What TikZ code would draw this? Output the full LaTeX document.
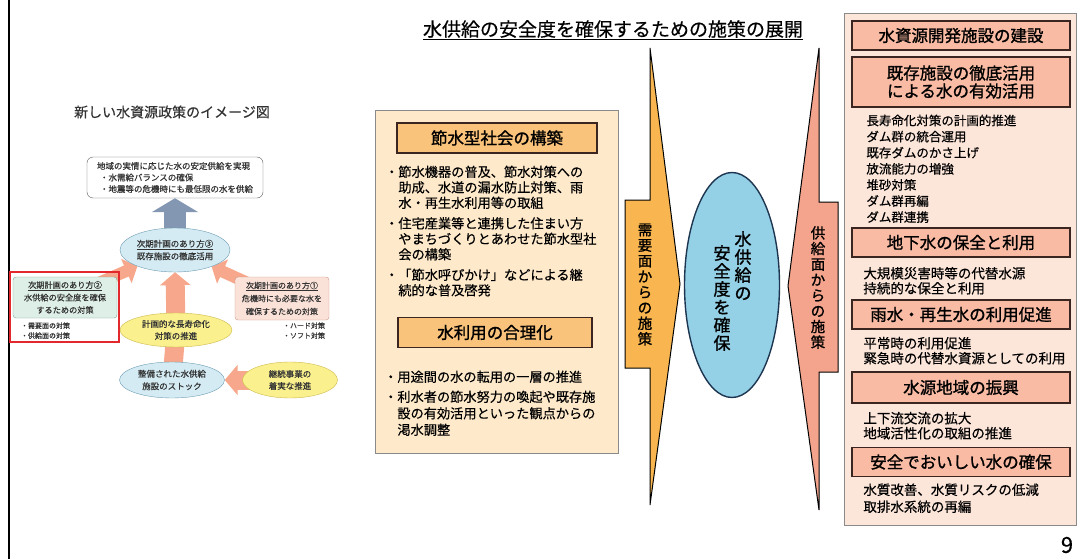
\documentclass[tikz,border=0pt]{standalone}
\usepackage{fontspec}
\setmainfont{Noto Sans CJK JP}[FakeBold=0.4]
\newfontfamily\headfont{Noto Sans CJK JP}[FakeBold=1.2]
\usetikzlibrary{positioning,shapes.geometric,arrows.meta}
\pgfdeclarelayer{background}
\pgfsetlayers{background,main}

\definecolor{demandfill}{HTML}{FEE9CB}
\definecolor{demandhd}{HTML}{FAC37C}
\definecolor{demandarr}{HTML}{F9B650}
\definecolor{corefill}{HTML}{95D1E6}
\definecolor{coreedge}{HTML}{1D3550}
\definecolor{supplyarr}{HTML}{F4A48D}
\definecolor{supplyfill}{HTML}{FCE5D9}
\definecolor{supplyhd}{HTML}{F9BBA4}
\definecolor{headline}{HTML}{3B2520}
\definecolor{boxgray}{HTML}{8A8A8A}
\definecolor{bluefill}{HTML}{D4EBF4}
\definecolor{blueedge}{HTML}{6F9CB2}
\definecolor{yelfill}{HTML}{FAF08E}
\definecolor{yeledge}{HTML}{CDB94E}
\definecolor{greenfill}{HTML}{DDEFE6}
\definecolor{greenedge}{HTML}{7FA192}
\definecolor{pinkfill}{HTML}{FBE2D9}
\definecolor{pinkedge}{HTML}{C99888}
\definecolor{redframe}{HTML}{E2282C}
\definecolor{arrowsalmon}{HTML}{F7A88C}
\definecolor{steel}{HTML}{8397B2}
\definecolor{darktext}{HTML}{333333}

\tikzset{
  fs/.style 2 args={font=\fontsize{#1}{#2}\selectfont},
  hfs/.style 2 args={font=\headfont\fontsize{#1}{#2}\selectfont},
  body/.style={anchor=north west, inner sep=0pt, align=left},
  vert/.style={align=center, inner sep=0pt, hfs={14.5}{15.6}},
  smalltext/.style={inner sep=0pt, align=left, text=darktext, fs={7}{10}},
  topbox/.style={draw=gray!70!black, rounded corners=6pt, fill=white, minimum width=176pt, minimum height=41pt, inner sep=0pt, align=left, text=darktext, fs={8.5}{11.5}},
  bluell/.style={ellipse, draw=blueedge, fill=bluefill, inner sep=0pt, align=center, text=darktext, fs={8.5}{12.5}},
  yelell/.style={ellipse, draw=yeledge, fill=yelfill, inner sep=0pt, align=center, text=darktext, fs={8.5}{12}},
  greenbox/.style={draw=greenedge, fill=greenfill, rounded corners=3pt, minimum width=104pt, minimum height=41pt, inner sep=0pt, align=center, text=darktext, fs={8.2}{12.5}},
  pinkbox/.style={draw=pinkedge, fill=pinkfill, rounded corners=3pt, minimum width=94pt, minimum height=43pt, inner sep=0pt, align=center, text=darktext, fs={8}{13}},
  salarrow/.style={draw=arrowsalmon, line width=12pt, -{Triangle[width=26pt,length=12pt]}},
  salwide/.style={draw=arrowsalmon, line width=19pt, -{Triangle[width=30pt,length=13pt]}},
  steelarrow/.style={draw=steel, line width=22pt, -{Triangle[width=46pt,length=14pt]}},
  demandhead/.style={draw=headline, line width=1.6pt, fill=demandhd, minimum height=30pt, inner sep=0pt, hfs={16.5}{20}},
  supplyhead/.style={draw=headline, line width=1.6pt, fill=supplyhd, minimum width=218pt, minimum height=29pt, inner sep=0pt, align=center, hfs={16.5}{18}}
}

\begin{document}
\begin{tikzpicture}[x=1pt,y=-1pt]
\useasboundingbox (0,0) rectangle (1082,559);
\draw[line width=2pt] (9,0) -- (9,559);

\node[fs={19}{22}] (title) at (613,30) {\underline{水供給の安全度を確保するための施策の展開}};
\node[fs={14}{16}, text=darktext] (imagettl) at (172,112) {新しい水資源政策のイメージ図};

\node[topbox] (goal) at (175,177.5) {地域の実情に応じた水の安定供給を実現\\\hspace*{3pt}・水需給バランスの確保\\\hspace*{3pt}・地震等の危機時にも最低限の水を供給};
\node[bluell, minimum width=110pt, minimum height=44pt] (plan3) at (175,250) {\underline{次期計画のあり方③}\\既存施設の徹底活用};
\node[draw=redframe, line width=2pt, minimum width=109pt, minimum height=70pt] (focus) at (64.5,307) {};
\node[greenbox] (plan2) at (65,297.5) {\underline{次期計画のあり方②}\\水供給の安全度を確保\\するための対策};
\node[smalltext, below right=4pt and 8pt of plan2.south west] (plan2sub) {・需要面の対策\\・供給面の対策};
\node[yelell, minimum width=112pt, minimum height=34pt] (longlife) at (176,330) {計画的な長寿命化\\対策の推進};
\node[pinkbox] (plan1) at (282,298.5) {\underline{次期計画のあり方①}\\危機時にも必要な水を\\確保するための対策};
\node[smalltext, below left=2pt and 4pt of plan1.south east] (plan1sub) {・ハード対策\\・ソフト対策};
\node[bluell, minimum width=105pt, minimum height=36pt] (stock) at (172,380) {整備された水供給\\施設のストック};
\node[yelell, minimum width=95pt, minimum height=36pt] (ongoing) at (290,380) {継続事業の\\着実な推進};

\begin{pgfonlayer}{background}
\draw[steelarrow] (plan3.north) -- (goal.south);
\draw[salarrow] (plan2.center) -- (plan3);
\draw[salarrow] (plan1.center) -- (plan3);
\draw[salwide] (longlife.center) -- (plan3.south);
\draw[salwide] (stock.center) -- (longlife.center);
\draw[salwide] (ongoing.center) -- (stock.east);
\end{pgfonlayer}

\node[draw=boxgray, fill=demandfill, minimum width=243pt, minimum height=343pt, inner sep=0pt] (demand) at (496.5,281.5) {};
\node[demandhead, minimum width=200pt] (savehd) at (497,138) {節水型社会の構築};
\node[body, fs={13.2}{15.5}] (savetx) at (385,165.5) {・節水機器の普及、節水対策への\\\hspace*{1em}助成、水道の漏水防止対策、雨\\\hspace*{1em}水・再生水利用等の取組\\[5pt]・住宅産業等と連携した住まい方\\\hspace*{1em}やまちづくりとあわせた節水型社\\\hspace*{1em}会の構築\\[5pt]・「節水呼びかけ」などによる継\\\hspace*{1em}続的な普及啓発};
\node[demandhead, minimum width=194pt] (usehd) at (495,332.5) {水利用の合理化};
\node[body, fs={13.2}{16.5}] (usetx) at (384,370.5) {・用途間の水の転用の一層の推進\\[3.5pt]・利水者の節水努力の喚起や既存施\\\hspace*{1em}設の有効活用といった観点からの\\\hspace*{1em}渇水調整};

\draw[fill=demandarr, line width=1pt] (650,48) -- (680,284) -- (650,505) -- (650,368) -- (625,368) -- (625,200) -- (650,200) -- cycle;
\node[vert] (demandlbl) at (645,284.5) {需\\要\\面\\か\\ら\\の\\施\\策};

\node[ellipse, draw=coreedge, line width=1.4pt, fill=corefill, minimum width=95pt, minimum height=225pt] (core) at (732,285) {};
\node[vert, hfs={17}{18}, anchor=north] (coreright) at (743,231) {水\\供\\給\\の};
\node[vert, hfs={17}{18}, anchor=north] (coreleft) at (722,245) {安\\全\\度\\を\\確\\保};

\draw[fill=supplyarr, line width=1pt] (819,48) -- (788,286) -- (819,510) -- (819,372) -- (838,372) -- (838,202) -- (819,202) -- cycle;
\node[vert] (supplylbl) at (818,287.5) {供\\給\\面\\か\\ら\\の\\施\\策};

\node[draw=boxgray, fill=supplyfill, minimum width=232pt, minimum height=512pt, inner sep=0pt] (supply) at (960,269) {};
\node[supplyhead] (devhd) at (961,35.5) {水資源開発施設の建設};
\node[supplyhead, minimum height=50pt] (existhd) at (961,82) {既存施設の徹底活用\\による水の有効活用};
\node[body, fs={12.5}{16.1}, below right=6.7pt and 15pt of existhd.south west] (damtx) {長寿命化対策の計画的推進\\ダム群の統合運用\\既存ダムのかさ上げ\\放流能力の増強\\堆砂対策\\ダム群再編\\ダム群連携};
\node[supplyhead] (gwhd) at (961,242.5) {地下水の保全と利用};
\node[body, fs={13.5}{15}, below right=9pt and 12pt of gwhd.south west] (gwtx) {大規模災害時等の代替水源\\持続的な保全と利用};
\node[supplyhead] (rainhd) at (961,314.5) {雨水・再生水の利用促進};
\node[body, fs={13.5}{15}, below right=7pt and 12pt of rainhd.south west] (raintx) {平常時の利用促進\\緊急時の代替水資源としての利用};
\node[supplyhead, minimum height=31pt] (areahd) at (961,387.5) {水源地域の振興};
\node[body, fs={13.5}{15}, below right=8pt and 12pt of areahd.south west] (areatx) {上下流交流の拡大\\地域活性化の取組の推進};
\node[supplyhead] (safehd) at (961,462) {安全でおいしい水の確保};
\node[body, fs={13.5}{17}, below right=6pt and 12pt of safehd.south west] (safetx) {水質改善、水質リスクの低減\\取排水系統の再編};

\node[fs={22}{24}] (pageno) at (1067,545) {9};
\end{tikzpicture}
\end{document}
